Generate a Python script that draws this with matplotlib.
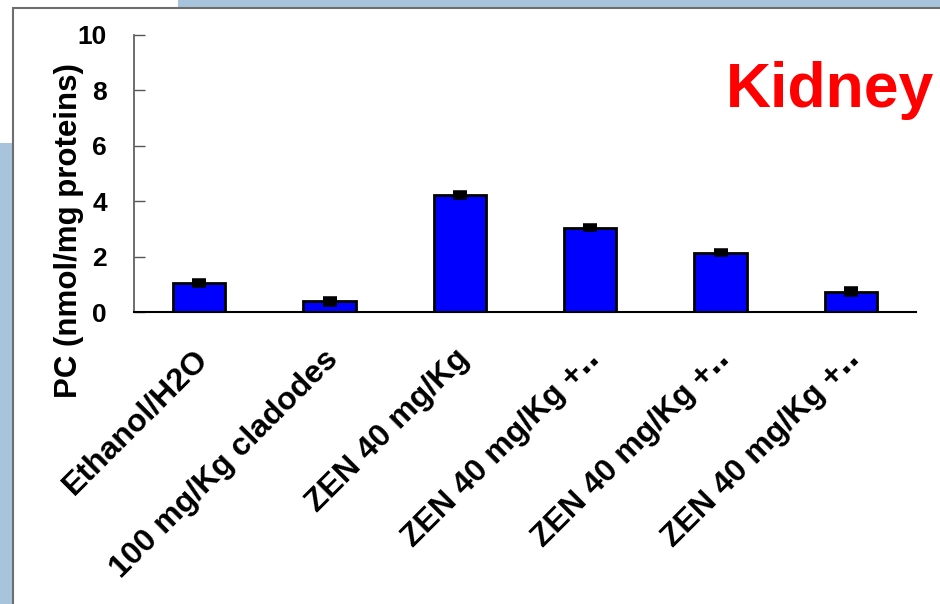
import matplotlib
matplotlib.use("Agg")
import matplotlib.pyplot as plt
import matplotlib.transforms as mtransforms
from matplotlib.patches import Rectangle

plt.rcParams['font.family'] = ['Liberation Sans', 'DejaVu Sans']
plt.rcParams['font.weight'] = 'bold'

# PC levels in kidney (nmol/mg proteins)
groups = ['Ethanol/H2O', '100 mg/Kg cladodes', 'ZEN 40 mg/Kg',
          'ZEN 40 mg/Kg +\u2025', 'ZEN 40 mg/Kg +\u2025', 'ZEN 40 mg/Kg +\u2025']
pc_mean = [1.05, 0.38, 4.22, 3.05, 2.14, 0.74]
pc_err = [0.08, 0.08, 0.06, 0.06, 0.06, 0.08]
y_ticks = [0, 2, 4, 6, 8, 10]

W, H = 940, 604
fig = plt.figure(figsize=(W / 100, H / 100), dpi=100)

# slide background: blue strips behind a white panel with a grey border
slide_blue = '#a8c4dc'
fig.patches.append(Rectangle((178 / W, 1 - 8 / H), 1, 8 / H, transform=fig.transFigure,
                             facecolor=slide_blue, edgecolor='none', zorder=0))
fig.patches.append(Rectangle((0, 0), 13 / W, 1 - 143 / H, transform=fig.transFigure,
                             facecolor=slide_blue, edgecolor='none', zorder=0))
fig.patches.append(Rectangle((13 / W, -0.1), 1.1, 1.1 - 8 / H, transform=fig.transFigure,
                             facecolor='white', edgecolor='#6e6e6e', linewidth=1.5, zorder=1))

ax = fig.add_axes([134 / W, 1 - 312 / H, (916 - 134) / W, (312 - 35) / H])
ax.set_facecolor('none')
ax.set_zorder(2)

x = range(len(groups))
ax.bar(x, pc_mean, width=0.4, color='#0000ff', edgecolor='black', linewidth=2, zorder=2)
ax.errorbar(x, pc_mean, yerr=pc_err, fmt='none', ecolor='black', elinewidth=2,
            capsize=5, capthick=4, zorder=3)

ax.set_xlim(-0.5, len(groups) - 0.5)
ax.set_ylim(0, 10)
ax.set_yticks(y_ticks)
ax.set_yticklabels([str(t) for t in y_ticks], fontsize=19, fontweight='bold')
ax.tick_params(axis='y', direction='in', length=8, width=1, color='#555555', pad=19.5)

ax.set_xticks(list(x))
ax.set_xticklabels(groups, fontsize=23, fontweight='bold', rotation=45,
                   ha='right', rotation_mode='anchor')
ax.tick_params(axis='x', length=0, pad=23)
shift = mtransforms.ScaledTranslation(-6 / 100, 0, fig.dpi_scale_trans)
for lbl in ax.get_xticklabels():
    lbl.set_transform(lbl.get_transform() + shift)

for side in ['top', 'right']:
    ax.spines[side].set_visible(False)
ax.spines['left'].set_color('#555555')
ax.spines['left'].set_linewidth(1.2)
ax.spines['bottom'].set_color('black')
ax.spines['bottom'].set_linewidth(1.5)

fig.text(69 / W, 1 - 231 / H, 'PC (nmol/mg proteins)', rotation=90, ha='center',
         va='center', fontsize=22.5, fontweight='bold')
fig.text(830 / W, 1 - 90 / H, 'Kidney', color='#ff0000', ha='center', va='center',
         fontsize=45, fontweight='bold')

fig.savefig('out.png', dpi=100)
